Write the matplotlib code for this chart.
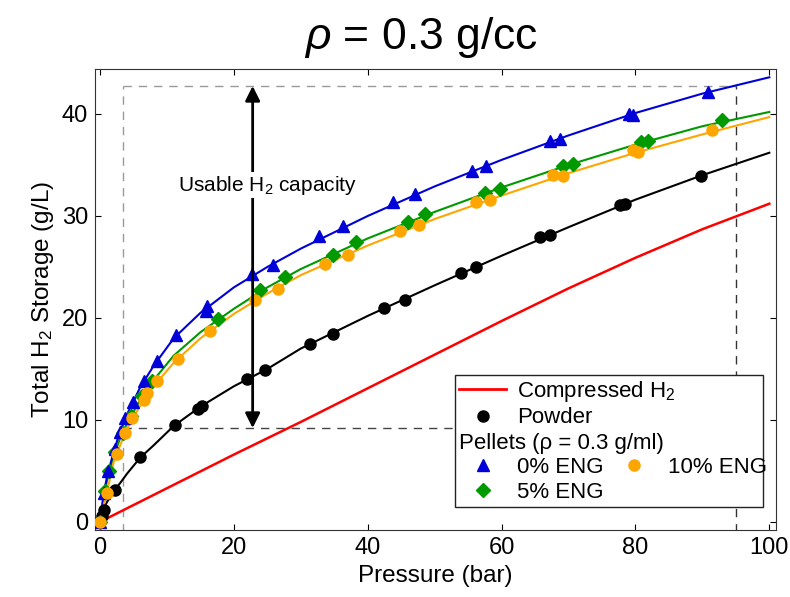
import numpy as np
import matplotlib
matplotlib.use("Agg")
import matplotlib.pyplot as plt
from matplotlib.lines import Line2D
from matplotlib.patches import Rectangle

plt.rcParams['font.family'] = ['Liberation Sans', 'DejaVu Sans']
plt.rcParams['mathtext.fontset'] = 'custom'
plt.rcParams['mathtext.rm'] = 'Liberation Sans'
plt.rcParams['mathtext.it'] = 'Liberation Sans:italic'
plt.rcParams['mathtext.default'] = 'regular'

# compressed gas reference line
p_comp = [0, 10, 20, 30, 40, 50, 60, 70, 80, 90, 100]
h_comp = [0, 3.3, 6.6, 9.8, 13.1, 16.4, 19.7, 22.9, 25.9, 28.7, 31.2]

# measured points (pressure in bar, storage in g/L)
p_powder = [0.0, 0.3, 0.6, 2.2, 6.0, 11.2, 14.7, 15.3, 21.9, 24.6, 31.3, 34.8, 42.4, 45.5,
            54.0, 56.2, 65.7, 67.3, 77.7, 78.4, 89.8]
h_powder = [0.0, 0.6, 1.2, 3.1, 6.4, 9.5, 11.1, 11.4, 14.0, 14.9, 17.4, 18.4, 21.0, 21.8,
            24.4, 25.0, 27.9, 28.1, 31.1, 31.2, 33.9]

p_eng0 = [0.05, 0.6, 1.2, 2.2, 3.0, 3.7, 4.9, 6.5, 8.5, 11.4, 15.8, 16.0, 22.7, 25.9,
          32.7, 36.3, 43.8, 47.0, 55.5, 57.7, 67.2, 68.7, 79.1, 79.6, 90.8]
h_eng0 = [0.0, 2.8, 5.0, 7.1, 8.8, 10.2, 11.8, 13.8, 15.8, 18.3, 20.7, 21.2, 24.3, 25.2,
          28.0, 29.0, 31.4, 32.2, 34.4, 34.9, 37.4, 37.5, 40.0, 39.9, 42.2]

p_eng5 = [0.0, 0.7, 1.4, 2.3, 3.4, 4.6, 6.2, 7.7, 17.6, 23.9, 27.7, 34.8, 38.3, 46.0,
          48.6, 57.5, 59.7, 69.2, 70.6, 80.8, 81.8, 93.0]
h_eng5 = [0.0, 3.0, 5.0, 6.9, 8.7, 10.4, 12.3, 13.8, 19.9, 22.7, 24.0, 26.2, 27.4, 29.4,
          30.2, 32.3, 32.6, 34.9, 35.1, 37.3, 37.4, 39.4]

p_eng10 = [0.05, 1.0, 2.5, 3.7, 4.8, 6.6, 7.0, 8.5, 11.7, 16.4, 23.1, 26.6, 33.6, 37.1,
           44.8, 47.7, 56.2, 58.2, 67.7, 69.2, 79.6, 80.4, 91.5]
h_eng10 = [0.0, 2.8, 6.7, 8.7, 10.2, 12.0, 12.6, 13.8, 16.0, 18.7, 21.8, 22.8, 25.3, 26.2,
           28.5, 29.1, 31.4, 31.6, 34.0, 33.9, 36.5, 36.3, 38.4]

# fitted curves
p_fit = [0, 0.5, 1, 2, 3, 4, 6, 8, 11, 15, 20, 25, 30, 40, 50, 60, 70, 80, 90, 100]
fit_powder = [0, 1.2, 1.9, 3.0, 3.8, 4.7, 6.3, 7.5, 9.4, 11.3, 13.3, 15.0, 17.0, 20.2,
              23.2, 26.1, 28.9, 31.6, 34.0, 36.2]
fit_eng0 = [0, 2.6, 4.3, 6.8, 8.9, 10.5, 13.2, 15.3, 18.0, 20.5, 23.0, 25.0, 26.8, 30.0,
            32.9, 35.5, 37.9, 40.1, 42.0, 43.6]
fit_eng5 = [0, 2.3, 3.9, 6.4, 8.2, 9.6, 12.0, 13.9, 16.3, 18.6, 20.9, 23.0, 24.8, 27.8,
            30.4, 32.8, 35.0, 37.0, 38.8, 40.2]
fit_eng10 = [0, 1.5, 2.8, 5.8, 7.5, 9.1, 11.4, 13.3, 15.6, 18.0, 20.4, 22.4, 24.2, 27.1,
             29.7, 32.0, 34.2, 36.2, 38.0, 39.7]

# usable capacity window
usable_p = [3.4, 95]
usable_h = [9.2, 42.75]
arrow_p = 22.8

blue = '#0000d8'
green = '#009900'
orange = '#ffa500'
red = '#ff0000'

fig = plt.figure(figsize=(7.9, 5.97), dpi=100)
ax = fig.add_axes([0.1203, 0.1122, 0.862, 0.772])

# dashed window
ax.plot([usable_p[0], usable_p[1]], [usable_h[1], usable_h[1]], ls=(0, (6, 5)), color='#999999', lw=1, zorder=1)
ax.plot([usable_p[0], usable_p[1]], [usable_h[0], usable_h[0]], ls=(0, (6, 5)), color='#444444', lw=1, zorder=1)
ax.plot([usable_p[0], usable_p[0]], [-1, usable_h[1]], ls=(0, (6, 5)), color='#999999', lw=1, zorder=1)
ax.plot([usable_p[1], usable_p[1]], [-1, usable_h[1]], ls=(0, (6, 5)), color='#333333', lw=1, zorder=1)

ax.plot(p_comp, h_comp, color=red, lw=1.8, zorder=2)

ms = 8
ax.plot(p_fit, fit_powder, color='k', lw=1.5, zorder=2)
ax.plot(p_powder, h_powder, 'o', color='k', ms=ms, zorder=3)
ax.plot(p_fit, fit_eng5, color=green, lw=1.5, zorder=2)
ax.plot(p_eng5, h_eng5, 'D', color=green, ms=7.5, zorder=3)
ax.plot(p_fit, fit_eng0, color=blue, lw=1.5, zorder=2)
ax.plot(p_eng0, h_eng0, '^', color=blue, ms=9, zorder=3)
ax.plot(p_fit, fit_eng10, color=orange, lw=1.5, zorder=2)
ax.plot(p_eng10, h_eng10, 'o', color=orange, ms=ms, zorder=3)

# usable capacity arrow
ax.annotate('', xy=(arrow_p, usable_h[1]), xytext=(arrow_p, usable_h[0]),
            arrowprops=dict(arrowstyle='<|-|>', color='k', lw=2, mutation_scale=22,
                            shrinkA=0, shrinkB=0), zorder=4)
ax.text(25, 33.0, 'Usable H$_2$ capacity', ha='center', va='center', fontsize=15,
        bbox=dict(facecolor='white', edgecolor='none', pad=1), zorder=5)

ax.set_xlim(-0.75, 101)
ax.set_ylim(-0.8, 44.4)
ax.set_xticks(np.arange(0, 101, 20))
ax.set_yticks(np.arange(0, 41, 10))
ax.tick_params(direction='in', top=True, right=True, length=4, labelsize=17, pad=5)
for sp in ax.spines.values():
    sp.set_color('#333333')
ax.set_xlabel('Pressure (bar)', fontsize=17.5, labelpad=4)
ax.set_ylabel('Total H$_2$ Storage (g/L)', fontsize=17.5, labelpad=4)

fig.text(421 / 790, 1 - 38 / 597, r'$\mathit{\rho}$ = 0.3 g/cc', ha='center', va='center', fontsize=32)

# legend: box plus two frameless legends
box = Rectangle((0.5286, 0.050), 0.4523, 0.287, transform=ax.transAxes, facecolor='white',
                edgecolor='#222222', lw=1, zorder=4.5)
ax.add_patch(box)
h1 = [Line2D([], [], color=red, lw=2),
      Line2D([], [], ls='none', marker='o', color='k', ms=ms)]
leg1 = ax.legend(h1, ['Compressed H$_2$', 'Powder'], loc='upper left', bbox_to_anchor=(0.5286, 0.337),
                 frameon=False, fontsize=16, handlelength=2.1, handletextpad=0.5, borderpad=0.2,
                 labelspacing=0.15, borderaxespad=0)
ax.add_artist(leg1)
h2 = [Line2D([], [], ls='none', marker='^', color=blue, ms=9),
      Line2D([], [], ls='none', marker='D', color=green, ms=7.5),
      Line2D([], [], ls='none', marker='o', color=orange, ms=ms)]
leg2 = ax.legend(h2, ['0% ENG', '5% ENG', '10% ENG'], ncol=2, title='Pellets (\u03c1 = 0.3 g/ml)',
                 title_fontsize=16, alignment='left', loc='lower left', bbox_to_anchor=(0.5286, 0.050),
                 frameon=False, fontsize=16, handlelength=2.1, handletextpad=0.5, borderpad=0.2,
                 labelspacing=0.15, columnspacing=0.3, borderaxespad=0)

fig.savefig('out.png', dpi=100)
